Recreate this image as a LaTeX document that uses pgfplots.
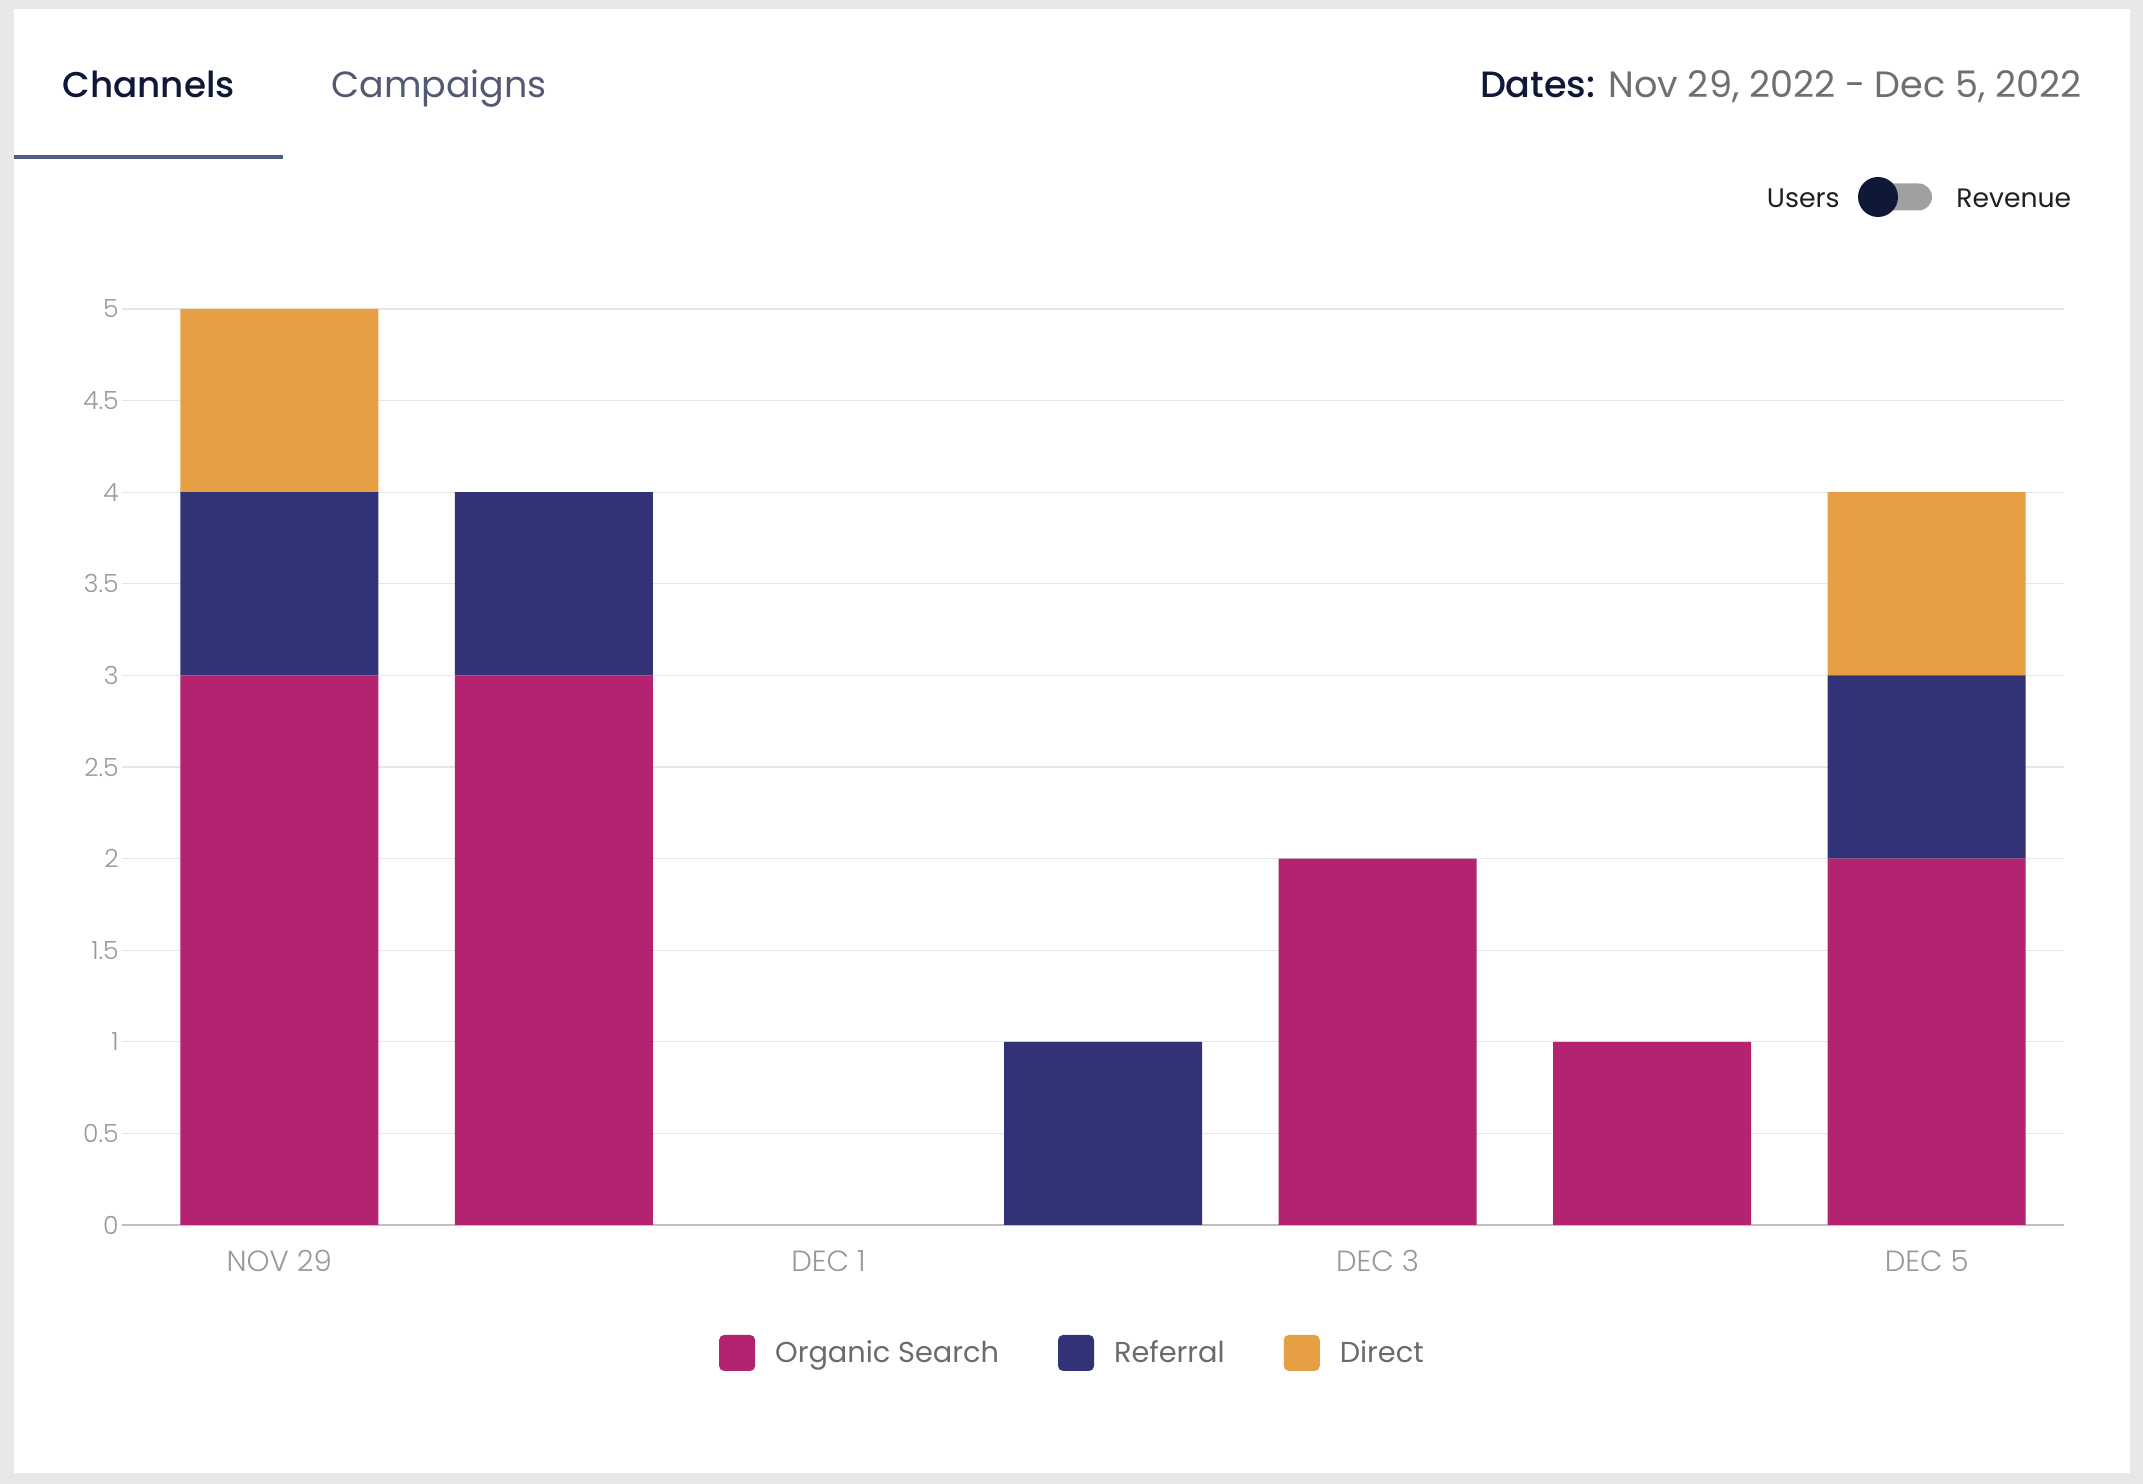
\documentclass[border=0pt]{standalone}
\usepackage{fontspec}
\setmainfont{Poppins}
\newfontfamily\plight{Poppins Light}
\newfontfamily\pmed{Poppins Medium}
\usepackage{pgfplots}
\pgfplotsset{compat=1.18}
\definecolor{organic}{HTML}{B4236F}
\definecolor{referral}{HTML}{323277}
\definecolor{direct}{HTML}{E69F42}
\definecolor{navy}{HTML}{0F1836}
\definecolor{tabgray}{HTML}{525A73}
\definecolor{uline}{HTML}{4F5D86}
\definecolor{dategray}{HTML}{6F6F6F}
\definecolor{tickgray}{HTML}{999999}
\definecolor{gridgray}{HTML}{E6E6E6}
\definecolor{basegray}{HTML}{BFBFBF}
\definecolor{bggray}{HTML}{E8E8E8}
\definecolor{trackgray}{HTML}{A0A0A0}
\definecolor{legtext}{HTML}{6B6B6B}
\begin{document}
\begin{tikzpicture}
\fill[bggray] (0,0) rectangle (1071.5bp,742bp);
\fill[white] (7bp,5.5bp) rectangle (1065bp,737.5bp);
\node[anchor=base west, inner sep=0pt, font=\pmed\fontsize{17.9bp}{21bp}\selectfont, text=navy] at (31bp,693bp) {Channels};
\node[anchor=base west, inner sep=0pt, font=\fontsize{18.2bp}{21bp}\selectfont, text=tabgray] at (165.5bp,693bp) {Campaigns};
\draw[uline, line width=2bp] (7bp,663.5bp) -- (141.5bp,663.5bp);
\node[anchor=base east, inner sep=0pt, font=\fontsize{18.3bp}{21bp}\selectfont] at (1041bp,693bp) {{\pmed\color{navy}Dates:} {\color{dategray}Nov 29, 2022 - Dec 5, 2022}};
\node[anchor=base east, inner sep=0pt, font=\fontsize{13.4bp}{16bp}\selectfont, text=black!88] at (920bp,638bp) {Users};
\node[anchor=base west, inner sep=0pt, font=\fontsize{13.3bp}{16bp}\selectfont, text=black!88] at (978bp,638bp) {Revenue};
\fill[trackgray, rounded corners=6.75bp] (932bp,636.75bp) rectangle (966bp,650.25bp);
\fill[navy] (939bp,643.5bp) circle (10bp);
\begin{axis}[
  at={(71bp,129.5bp)}, anchor=south west,
  scale only axis, width=961bp, height=458bp,
  ybar stacked, bar width=99bp,
  xmin=-0.5, xmax=6.5, ymin=0, ymax=5,
  axis x line*=bottom, axis y line*=left,
  axis line style={-},
  x axis line style={draw=basegray, line width=1bp, shorten <=-10bp},
  y axis line style={draw=none},
  xtick={0,2,4,6}, xticklabels={NOV 29,DEC 1,DEC 3,DEC 5},
  ytick={0,0.5,1,1.5,2,2.5,3,3.5,4,4.5,5},
  yticklabels={0,0.5,1,1.5,2,2.5,3,3.5,4,4.5,5},
  tick align=outside, major tick length=10bp,
  x tick style={draw=none},
  y tick style={draw=gridgray, line width=0.6bp},
  ymajorgrids, grid style={draw=gridgray, line width=0.6bp},
  xticklabel style={font=\plight\fontsize{14.6bp}{17bp}\selectfont, text=tickgray, inner sep=0pt, yshift=-2.5bp},
  yticklabel style={font=\plight\fontsize{12.5bp}{15bp}\selectfont, text=tickgray, inner sep=0pt, xshift=-1.5bp},
  legend style={at={(0.4836,-0.1397)}, anchor=center, draw=none, fill=none,
    legend columns=-1, font=\fontsize{14.4bp}{18bp}\selectfont, text=legtext,
    /tikz/every odd column/.append style={column sep=10bp},
    /tikz/every even column/.append style={column sep=29.5bp},
    nodes={inner sep=0pt}},
  legend image code/.code={\fill[#1, draw=none, rounded corners=2.5bp] (0bp,-9bp) rectangle (18bp,9bp);},
]
\addplot[fill=organic, draw=none] coordinates {(0,3) (1,3) (2,0) (3,0) (4,2) (5,1) (6,2)};
\addplot[fill=referral, draw=none] coordinates {(0,1) (1,1) (2,0) (3,1) (4,0) (5,0) (6,1)};
\addplot[fill=direct, draw=none] coordinates {(0,1) (1,0) (2,0) (3,0) (4,0) (5,0) (6,1)};
\legend{Organic Search,Referral,Direct}
\end{axis}
\end{tikzpicture}
\end{document}
